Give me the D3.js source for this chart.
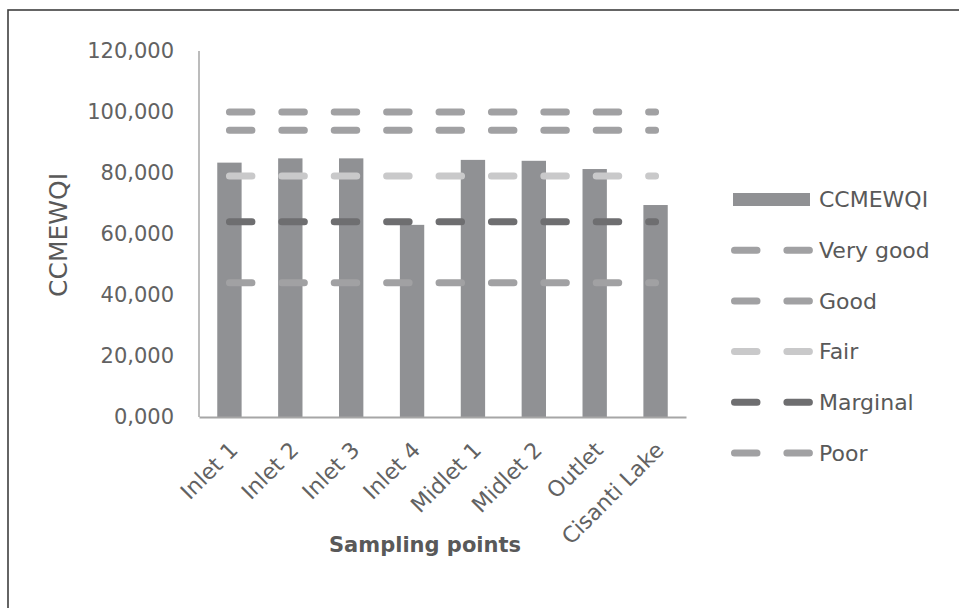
<!DOCTYPE html>
<html>
<head>
<meta charset="utf-8">
<script src="https://cdn.jsdelivr.net/npm/d3@7"></script>
<style>
  html, body { margin: 0; padding: 0; background: #fff; }
  svg { display: block; }
  text { font-family: "DejaVu Sans", sans-serif; }
</style>
</head>
<body>
<svg id="chart" width="959" height="608"></svg>
<script>
// ---- data ----
const categories = ["Inlet 1", "Inlet 2", "Inlet 3", "Inlet 4", "Midlet 1", "Midlet 2", "Outlet", "Cisanti Lake"];
const ccmewqi   = [83.4, 84.8, 84.8, 63.0, 84.3, 84.0, 81.3, 69.5];
const veryGood  = [100, 100, 100, 100, 100, 100, 100, 100];
const good      = [94, 94, 94, 94, 94, 94, 94, 94];
const fair      = [79, 79, 79, 79, 79, 79, 79, 79];
const marginal  = [64, 64, 64, 64, 64, 64, 64, 64];
const poor      = [44, 44, 44, 44, 44, 44, 44, 44];
const yTicks      = [0, 20, 40, 60, 80, 100, 120];
const yTickLabels = ["0,000", "20,000", "40,000", "60,000", "80,000", "100,000", "120,000"];
const seriesNames = ["Very good", "Good", "Fair", "Marginal", "Poor"];

// ---- styles ----
const barColor = "#909194";
const lineColors = { "Very good": "#a1a1a3", "Good": "#a1a1a3", "Fair": "#c9c9ca", "Marginal": "#6e6e70", "Poor": "#a1a1a3" };
const lineSeries = [
  { name: "Very good", values: veryGood },
  { name: "Good", values: good },
  { name: "Fair", values: fair },
  { name: "Marginal", values: marginal },
  { name: "Poor", values: poor }
];

const svg = d3.select("#chart");

// outer frame (extends past right/bottom edges)
svg.append("rect")
  .attr("x", 8).attr("y", 10).attr("width", 1000).attr("height", 700)
  .attr("fill", "none").attr("stroke", "#3f3f3f").attr("stroke-width", 1.6);

const plot = { left: 199, right: 686, top: 51, bottom: 417 };

const x = d3.scaleBand().domain(categories)
  .range([plot.left, plot.right]).paddingInner(0.6).paddingOuter(0.3);
const y = d3.scaleLinear().domain([0, 120]).range([plot.bottom, plot.top]);

// y tick labels
const yAxis = d3.axisLeft(y).tickValues(yTicks)
  .tickFormat((d, i) => yTickLabels[i]).tickSize(0).tickPadding(25);
const gy = svg.append("g").attr("transform", `translate(${plot.left},0)`).call(yAxis);
gy.select(".domain").remove();
gy.selectAll("text").attr("font-size", 21).attr("fill", "#626262")
  .attr("font-family", "DejaVu Sans, sans-serif");

// y axis line
svg.append("line").attr("x1", plot.left).attr("x2", plot.left)
  .attr("y1", y(120)).attr("y2", y(0))
  .attr("stroke", "#a6a6a6").attr("stroke-width", 1.5);

// bars
svg.append("g").selectAll("rect").data(categories).join("rect")
  .attr("x", d => x(d))
  .attr("y", (d, i) => y(ccmewqi[i]))
  .attr("width", x.bandwidth())
  .attr("height", (d, i) => y(0) - y(ccmewqi[i]))
  .attr("fill", barColor);

// x axis line + labels
const xAxis = d3.axisBottom(x).tickSize(0).tickPadding(0);
const gx = svg.append("g").attr("transform", `translate(0,${plot.bottom})`).call(xAxis);
gx.select(".domain").attr("stroke", "#a6a6a6").attr("stroke-width", 2);
gx.selectAll("text")
  .attr("font-size", 22).attr("fill", "#626262")
  .attr("font-family", "DejaVu Sans, sans-serif")
  .attr("text-anchor", "end")
  .attr("transform", d => `translate(${x.bandwidth() / 2 - 8},29) rotate(-45)`)
  .attr("dy", "0.35em");

// threshold dashed lines (drawn on top of bars)
const line = d3.line()
  .x((d, i) => x(categories[i]) + x.bandwidth() / 2)
  .y(d => y(d));
svg.append("g").selectAll("path").data(lineSeries).join("path")
  .attr("d", s => line(s.values))
  .attr("fill", "none")
  .attr("stroke", s => lineColors[s.name])
  .attr("stroke-width", 7)
  .attr("stroke-linecap", "round")
  .attr("stroke-dasharray", "22.5,29.9");

// axis titles
svg.append("text")
  .attr("transform", "translate(58,235) rotate(-90)")
  .attr("text-anchor", "middle").attr("dy", "0.35em")
  .attr("font-size", 25).attr("fill", "#595959")
  .text("CCMEWQI");

svg.append("text")
  .attr("x", 425).attr("y", 545).attr("dy", "0.35em")
  .attr("text-anchor", "middle")
  .attr("font-size", 21).attr("font-weight", "bold").attr("fill", "#595959")
  .text("Sampling points");

// legend
const lg = svg.append("g");
const ly0 = 199.5, lstep = 50.7;
lg.append("rect").attr("x", 733).attr("y", ly0 - 6.5).attr("width", 77).attr("height", 13)
  .attr("fill", barColor);
lg.append("text").attr("x", 819).attr("y", ly0).attr("dy", "0.35em")
  .attr("font-size", 22).attr("fill", "#595959").text("CCMEWQI");
lineSeries.forEach((s, i) => {
  const yy = ly0 + lstep * (i + 1);
  lg.append("line").attr("x1", 734.5).attr("x2", 811.5).attr("y1", yy).attr("y2", yy)
    .attr("stroke", lineColors[s.name]).attr("stroke-width", 7)
    .attr("stroke-linecap", "round").attr("stroke-dasharray", "22.5,29.9");
  lg.append("text").attr("x", 819).attr("y", yy).attr("dy", "0.35em")
    .attr("font-size", 22).attr("fill", "#595959").text(seriesNames[i]);
});
</script>
</body>
</html>
